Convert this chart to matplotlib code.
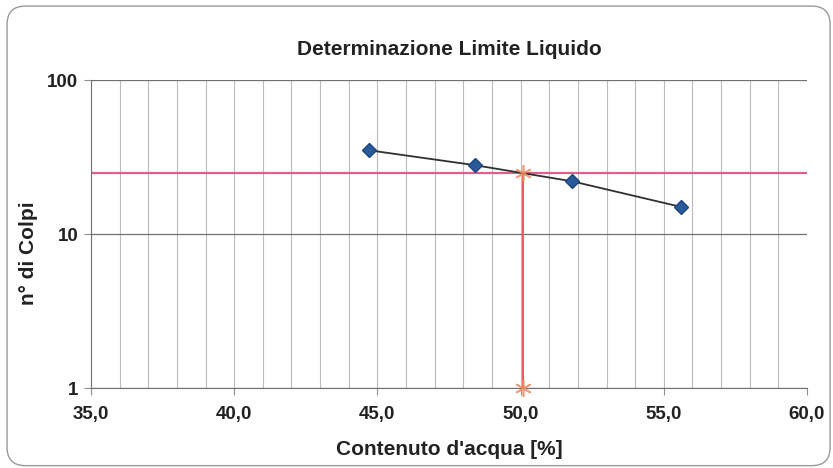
import matplotlib
matplotlib.use("Agg")
import matplotlib.pyplot as plt
from matplotlib.patches import FancyBboxPatch
from matplotlib.ticker import FixedLocator, FuncFormatter, NullLocator

plt.rcParams["font.family"] = ["Liberation Sans", "DejaVu Sans"]

# ---------- data ----------
water_content = [44.7, 48.4, 51.8, 55.6]   # %
blows = [35, 28, 22, 15]                   # n° di colpi
liquid_limit = 50.1
blows_ref = 25
x_ticks = [35, 40, 45, 50, 55, 60]
y_ticks = [1, 10, 100]

fig = plt.figure(figsize=(8.33, 4.68), dpi=100)

# rounded chart-area border
border = FancyBboxPatch((0.0085, 0.005), 0.988, 0.982,
                        boxstyle="round,pad=0,rounding_size=0.022",
                        transform=fig.transFigure, fill=False,
                        edgecolor="#9a9a9a", lw=1.0, mutation_aspect=833 / 468)
fig.patches.append(border)

ax = fig.add_axes([0.1092, 0.1709, 0.8596, 0.6581])
ax.set_yscale("log")
ax.set_xlim(35, 60)
ax.set_ylim(1, 100)

# grid
for x in range(36, 60):
    ax.axvline(x, color="#bcbcbc", lw=0.8, zorder=1)
for y in y_ticks:
    ax.axhline(y, color="#707070", lw=0.9, zorder=1)

# reference lines
ax.axhline(blows_ref, color="#e0608a", lw=1.6, zorder=2)
ax.plot([liquid_limit, liquid_limit], [1, blows_ref], color="#ee5a5a", lw=1.4, zorder=2)
ax.plot([liquid_limit, liquid_limit], [1, blows_ref], ls="none",
        marker=(6, 2, 0), ms=12, mec="#f08a60", mew=1.2, alpha=0.85,
        zorder=4, clip_on=False)

# data
ax.plot(water_content, blows, color="#303030", lw=1.3, zorder=3)
ax.plot(water_content, blows, ls="none", marker="D", ms=7.5,
        color="#2a5a9a", mec="#1d4680", zorder=5)

ax.xaxis.set_major_locator(FixedLocator(x_ticks))
ax.xaxis.set_major_formatter(FuncFormatter(lambda v, p: f"{v:.1f}".replace(".", ",")))
ax.yaxis.set_major_locator(FixedLocator(y_ticks))
ax.yaxis.set_major_formatter(FuncFormatter(lambda v, p: f"{v:g}"))
ax.yaxis.set_minor_locator(NullLocator())

for s in ax.spines.values():
    s.set_visible(False)
ax.spines["left"].set_visible(True)
ax.spines["bottom"].set_visible(True)
ax.spines["left"].set_color("#707070")
ax.spines["bottom"].set_color("#707070")
ax.tick_params(axis="both", length=5, color="#909090", labelsize=13.5)
ax.tick_params(axis="x", pad=8)
ax.tick_params(axis="y", pad=4)
for lab in ax.get_xticklabels() + ax.get_yticklabels():
    lab.set_fontweight("bold")
    lab.set_color("#222222")

ax.set_title("Determinazione Limite Liquido", fontsize=15, fontweight="bold",
             color="#222222", pad=18)
ax.set_xlabel("Contenuto d'acqua [%]", fontsize=15, fontweight="bold",
              color="#222222", labelpad=12)
ax.set_ylabel("n° di Colpi", fontsize=15, fontweight="bold", color="#222222")
ax.yaxis.set_label_coords(-0.074, 0.438)

fig.savefig("out.png", dpi=100)
